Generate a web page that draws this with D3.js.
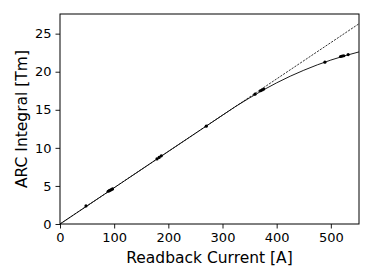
<!DOCTYPE html>
<html>
<head>
<meta charset="utf-8">
<script src="https://cdn.jsdelivr.net/npm/d3@7"></script>
<style>
    body { margin: 0; background: #fff; }
    text { font-family: "DejaVu Sans", sans-serif; fill: #000; }
</style>
</head>
<body>
<svg id="chart" width="374" height="280"></svg>
<script>
// measured points
const pointCurrent = [48, 89, 91, 93, 95, 97, 179, 183, 187, 270, 360, 370, 373, 376, 489, 518, 521, 524, 532]
const pointIntegral = [2.38, 4.3, 4.38, 4.45, 4.52, 4.6, 8.55, 8.75, 8.95, 12.85, 17.05, 17.5, 17.6, 17.72, 21.25, 22.0, 22.05, 22.1, 22.25]

// linear extrapolation (dashed)
const lineCurrent = [0, 552]
const lineIntegral = [0, 26.3]

// fitted curve (solid)
const fitCurrent = [0, 100, 200, 300, 325, 350, 375, 400, 425, 450, 475, 500, 525, 552]
const fitIntegral = [0, 4.76, 9.53, 14.29, 15.47, 16.56, 17.59, 18.54, 19.41, 20.19, 20.9, 21.53, 22.08, 22.6]

const xTicks = [0, 100, 200, 300, 400, 500]
const yTicks = [0, 5, 10, 15, 20, 25]

const margin = { left: 60, top: 14, right: 15, bottom: 56 }
const width = 374, height = 280

const svg = d3.select('#chart')

const x = d3.scaleLinear()
    .domain([0, 552])
    .range([margin.left, width - margin.right])
const y = d3.scaleLinear()
    .domain([0, 27.58])
    .range([height - margin.bottom, margin.top])

svg.append('defs').append('clipPath')
    .attr('id', 'plot-clip')
    .append('rect')
    .attr('x', margin.left)
    .attr('y', margin.top)
    .attr('width', width - margin.left - margin.right)
    .attr('height', height - margin.top - margin.bottom)

const gPlot = svg.append('g').attr('clip-path', 'url(#plot-clip)')

const line = d3.line()
    .x(d => x(d[0]))
    .y(d => y(d[1]))

gPlot.append('path')
    .datum(d3.zip(lineCurrent, lineIntegral))
    .attr('d', line)
    .attr('fill', 'none')
    .attr('stroke', '#000')
    .attr('stroke-width', 0.8)
    .attr('stroke-dasharray', '2.2,1.2')

gPlot.append('path')
    .datum(d3.zip(fitCurrent, fitIntegral))
    .attr('d', line.curve(d3.curveMonotoneX))
    .attr('fill', 'none')
    .attr('stroke', '#000')
    .attr('stroke-width', 0.9)

gPlot.selectAll('circle.pt')
    .data(d3.zip(pointCurrent, pointIntegral))
    .enter()
    .append('circle')
    .attr('class', 'pt')
    .attr('cx', d => x(d[0]))
    .attr('cy', d => y(d[1]))
    .attr('r', 1.6)
    .attr('fill', '#000')

// axes
const xAxis = svg.append('g')
    .attr('transform', `translate(0, ${height - margin.bottom})`)
    .call(d3.axisBottom(x).tickValues(xTicks).tickSize(4.5).tickPadding(4))
const yAxis = svg.append('g')
    .attr('transform', `translate(${margin.left}, 0)`)
    .call(d3.axisLeft(y).tickValues(yTicks).tickSize(4.5).tickPadding(4))

for (const ax of [xAxis, yAxis]) {
    ax.select('.domain').remove()
    ax.selectAll('text').attr('font-size', 13).attr('font-family', '"DejaVu Sans", sans-serif')
    ax.selectAll('line').attr('stroke', '#000').attr('stroke-width', 0.9)
}

// frame
svg.append('rect')
    .attr('x', margin.left)
    .attr('y', margin.top)
    .attr('width', width - margin.left - margin.right)
    .attr('height', height - margin.top - margin.bottom)
    .attr('fill', 'none')
    .attr('stroke', '#000')
    .attr('stroke-width', 1)

svg.append('text')
    .attr('x', (margin.left + width - margin.right) / 2)
    .attr('y', 263)
    .attr('text-anchor', 'middle')
    .attr('font-size', 15.5)
    .text('Readback Current [A]')

svg.append('text')
    .attr('transform', `translate(27, ${(margin.top + height - margin.bottom) / 2}) rotate(-90)`)
    .attr('text-anchor', 'middle')
    .attr('font-size', 15.5)
    .text('ARC Integral [Tm]')
</script>
</body>
</html>
